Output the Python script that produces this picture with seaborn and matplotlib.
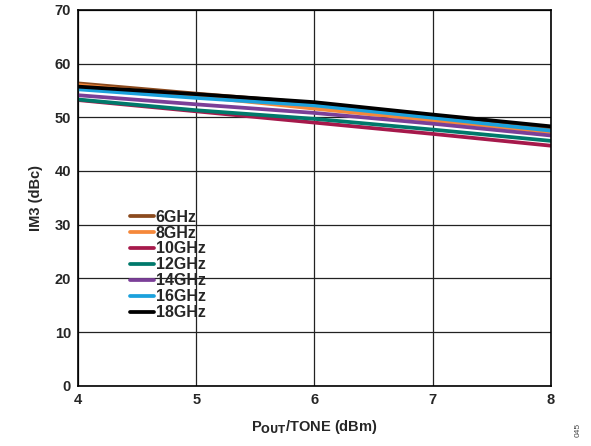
import pandas as pd
import matplotlib
matplotlib.use('Agg')
import matplotlib.pyplot as plt
import seaborn as sns

# ============================ DADOS ============================

pout = [4, 5, 6, 7, 8]
freqs = ['6GHz', '8GHz', '10GHz', '12GHz', '14GHz', '16GHz', '18GHz']

im3_6ghz = [56.3, 54.4, 52.6, 50.2, 47.8]
im3_8ghz = [56.0, 53.9, 51.6, 49.4, 47.2]
im3_10ghz = [53.2, 51.1, 49.0, 46.9, 44.7]
im3_12ghz = [53.3, 51.3, 49.7, 47.7, 45.6]
im3_14ghz = [54.1, 52.4, 50.8, 48.8, 46.6]
im3_16ghz = [55.2, 53.6, 52.2, 49.9, 47.5]
im3_18ghz = [55.7, 54.3, 52.8, 50.5, 48.3]

colors = ['#8b4a1e', '#f5883a', '#a6194b', '#00796b', '#7b3f98', '#1ba1dc', '#000000']

# ============================ CONFIG ============================

sns.set_style('white')
plt.rcParams['font.family'] = ['Liberation Sans', 'DejaVu Sans']
plt.rcParams['font.weight'] = 'bold'

series = [im3_6ghz, im3_8ghz, im3_10ghz, im3_12ghz, im3_14ghz, im3_16ghz, im3_18ghz]
rows = []
for f, vals in zip(freqs, series):
    for x, y in zip(pout, vals):
        rows.append({'pout': x, 'im3': y, 'freq': f})
df = pd.DataFrame(rows)

fig = plt.figure(figsize=(5.91, 4.46), dpi=100)
ax = fig.add_axes([0.132, 0.135, 0.800, 0.843])

sns.lineplot(data=df, x='pout', y='im3', hue='freq', hue_order=freqs,
             palette=colors, linewidth=2.7, ax=ax)

ax.set_xlim(4, 8)
ax.set_ylim(0, 70)
ax.set_xticks(pout)
ax.set_yticks(range(0, 71, 10))
ax.grid(True, color='#222222', linewidth=0.9)
ax.set_axisbelow(True)
for s in ax.spines.values():
    s.set_color('black')
    s.set_linewidth(1.2)
ax.tick_params(axis='both', length=0, labelsize=10.5, pad=5)
for lbl in ax.get_xticklabels() + ax.get_yticklabels():
    lbl.set_fontweight('bold')

ax.set_xlabel(r'P$_{\mathbf{OUT}}$/TONE (dBm)', fontsize=10.5, fontweight='bold', labelpad=8)
ax.set_ylabel('IM3 (dBc)', fontsize=10.5, fontweight='bold', labelpad=8)

leg = ax.legend(loc='upper left', bbox_to_anchor=(0.08, 0.507), frameon=False,
                handlelength=1.5, handletextpad=0.1, labelspacing=0.06,
                prop={'weight': 'bold', 'size': 11.5})
for line in leg.get_lines():
    line.set_linewidth(2.7)

fig.text(0.978, 0.035, '045', rotation=90, fontsize=6, color='#444444',
         fontweight='normal', ha='center', va='center')

fig.savefig('out.png', dpi=100)
